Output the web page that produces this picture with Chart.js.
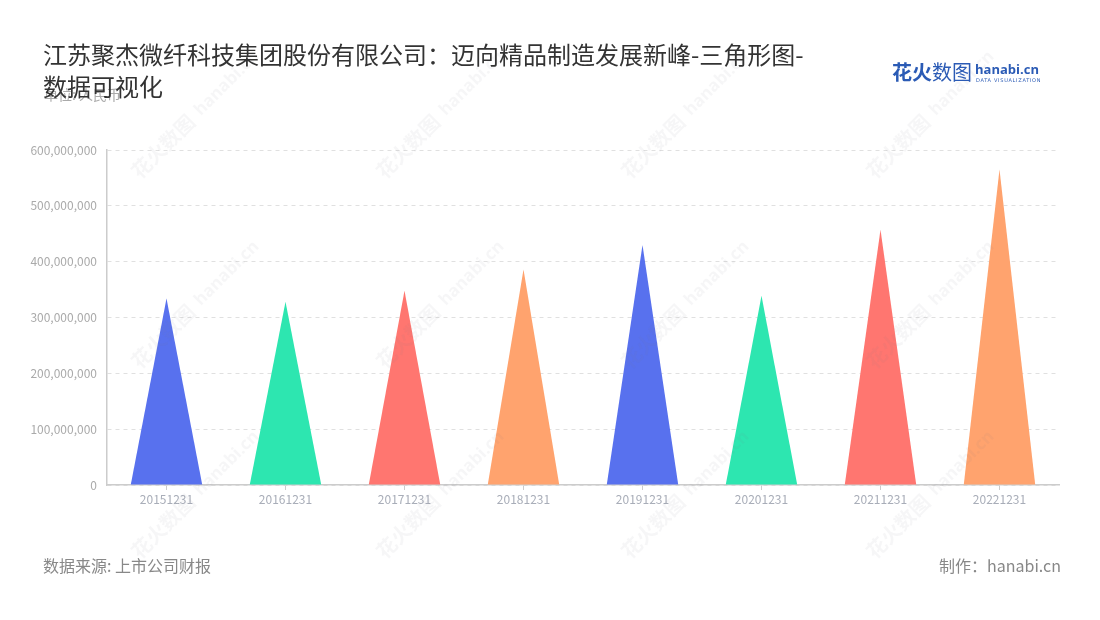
<!DOCTYPE html>
<html><head><meta charset="utf-8">
<script src="https://cdn.jsdelivr.net/npm/chart.js@4/dist/chart.umd.min.js"></script>
<style>
html,body{margin:0;padding:0;background:#fff;}
#wrap{position:relative;width:1100px;height:620px;font-family:"Noto Sans CJK SC","Noto Sans",sans-serif;}
#c{position:absolute;left:0;top:0;}
.t{position:absolute;white-space:nowrap;}
</style></head><body>
<div id="wrap">
<canvas id="c" width="1100" height="620"></canvas>
<div class="t" style="left:44px;top:95px;font-size:14px;color:#aaa;line-height:1;transform:translateY(-8px)">单位: 人民币</div>
<div class="t" style="left:43px;top:38px;font-size:24px;color:#333;line-height:32px;">江苏聚杰微纤科技集团股份有限公司：迈向精品制造发展新峰-三角形图-<br>数据可视化</div>
<div class="t" style="left:892px;top:62px;font-size:20px;font-weight:bold;color:#2b5bb5;line-height:1;">花火<span style="font-weight:normal">数图</span></div>
<div class="t" style="left:975px;top:63px;font-size:13px;font-weight:bold;color:#2b5bb5;line-height:1;font-family:'Open Sans',sans-serif;">hanabi.cn</div>
<div class="t" style="left:976px;top:78px;font-size:5px;color:#2b5bb5;letter-spacing:0.7px;line-height:1;font-family:'DejaVu Sans',sans-serif;">DATA VISUALIZATION</div>
<div class="t" style="left:43px;top:555px;font-size:16px;color:#888;line-height:1.3;">数据来源: 上市公司财报</div>
<div class="t" style="right:39px;top:555px;font-size:16px;color:#888;line-height:1.3;">制作：hanabi.cn</div>
</div>
<script>
const categories = ["20151231","20161231","20171231","20181231","20191231","20201231","20211231","20221231"];
const values = [334000000, 328000000, 348000000, 386000000, 430000000, 339000000, 457000000, 565000000];
const colors = ["#5871ee","#2de6b0","#ff7670","#ffa36e","#5871ee","#2de6b0","#ff7670","#ffa36e"];
const yTicks = [0,100000000,200000000,300000000,400000000,500000000,600000000];

const trianglePlugin = {
  id:'tri',
  beforeDatasetDraw(chart, args){
    const meta = args.meta; const ctx = chart.ctx;
    ctx.save();
    meta.data.forEach((el,i)=>{
      const p = el.getProps(['x','y','base','width'], true);
      ctx.beginPath();
      ctx.moveTo(p.x - p.width/2, p.base);
      ctx.lineTo(p.x, p.y);
      ctx.lineTo(p.x + p.width/2, p.base);
      ctx.closePath();
      ctx.fillStyle = colors[i];
      ctx.fill();
    });
    ctx.restore();
    return false;
  }
};
const watermarkPlugin = {
  id:'wm',
  afterDraw(chart){
    const ctx = chart.ctx;
    ctx.save();
    ctx.fillStyle = 'rgba(120,120,130,0.065)';
    const xs=[140,385,630,875], ys=[180,370,560];
    xs.forEach(x=>ys.forEach(y=>{
      ctx.save();
      ctx.translate(x,y);
      ctx.rotate(-Math.PI/4);
      ctx.font = 'bold 20px "Noto Sans CJK SC"';
      ctx.fillText('花火数图', 0, 0);
      ctx.font = 'bold 17px "Open Sans"';
      ctx.fillText('hanabi.cn', 88, -2);
      ctx.restore();
    }));
    ctx.restore();
  }
};

new Chart(document.getElementById('c'), {
  type:'bar',
  data:{labels:categories, datasets:[{data:values, backgroundColor:colors, categoryPercentage:0.6, barPercentage:1}]},
  options:{
    responsive:false, animation:false,
    layout:{padding:{left:0,top:150,right:41,bottom:105}},
    plugins:{legend:{display:false},tooltip:{enabled:false}},
    scales:{
      x:{
        offset:true,
        grid:{display:true, drawOnChartArea:false, offset:false, drawTicks:true, tickLength:5, color:'#ccc'},
        border:{display:true,color:'#ccc',width:1.5},
        ticks:{color:'#a8adb8',font:{size:12,family:'"Noto Sans CJK SC"'},padding:2},
        afterFit(s){s.height=30;}
      },
      y:{
        min:0,max:600000000,
        afterBuildTicks(s){s.ticks = yTicks.map(v=>({value:v}));},
        grid:{color:'#e0e0e0', drawTicks:false},
        border:{display:true,color:'#ccc',width:1.5,dash:[4,4]},
        ticks:{color:'#aaa',font:{size:12,family:'"Noto Sans CJK SC"'},padding:10,
          callback:v=>v.toLocaleString('en-US')},
        afterFit(s){s.width=107;}
      }
    }
  },
  plugins:[trianglePlugin, watermarkPlugin]
});
</script>
</body></html>
